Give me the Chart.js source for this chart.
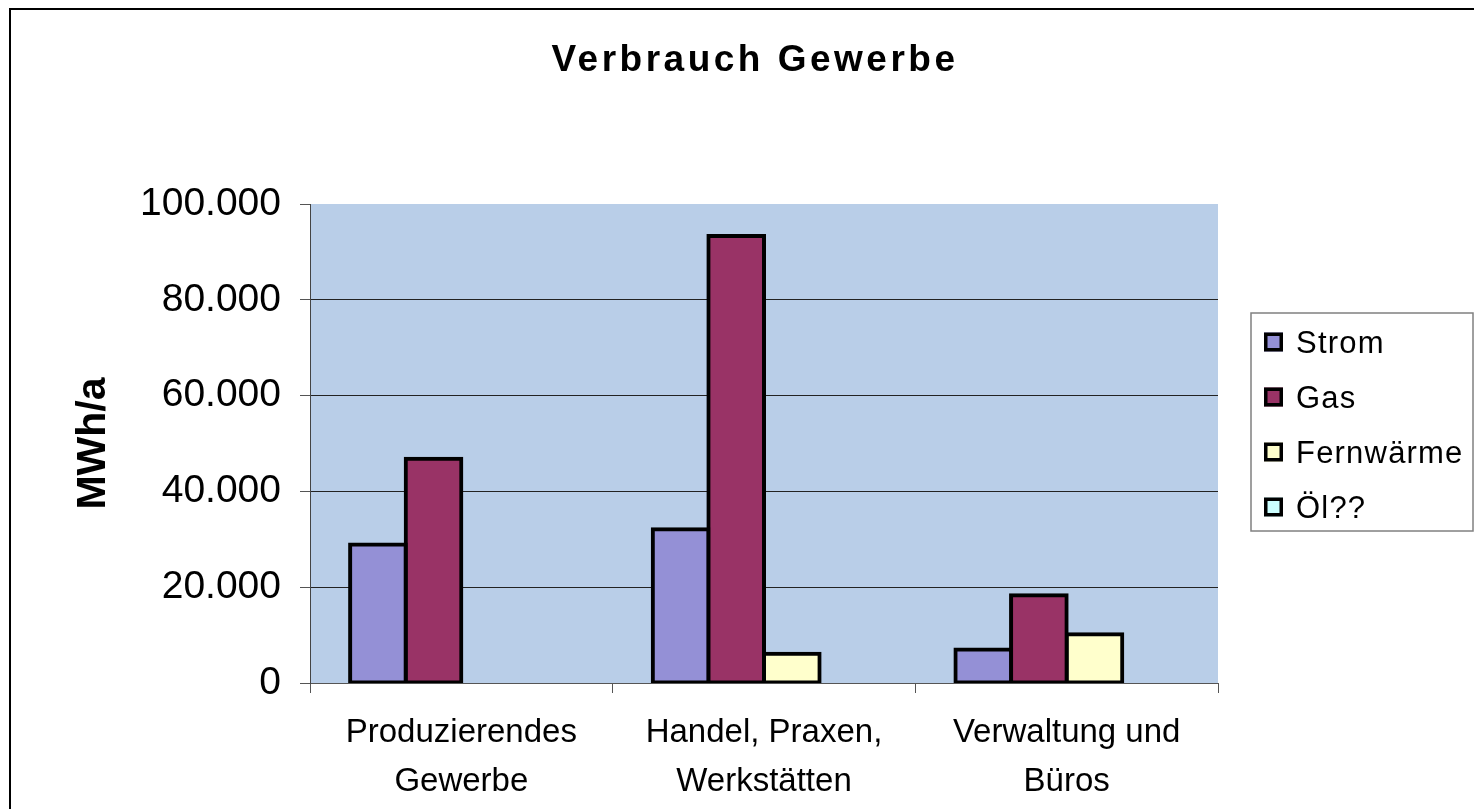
<!DOCTYPE html>
<html>
<head>
<meta charset="utf-8">
<title>Verbrauch Gewerbe</title>
<script src="https://cdn.jsdelivr.net/npm/chart.js@4.4.1/dist/chart.umd.min.js"></script>
<style>
  html, body { margin: 0; padding: 0; background: #fff; }
  #myChart { display: block; }
</style>
</head>
<body>
<canvas id="myChart" width="1474" height="809"></canvas>
<script>
// data (MWh/a)
var chartTitle = 'Verbrauch Gewerbe';
var yTitle = 'MWh/a';
var categories = [['Produzierendes', 'Gewerbe'], ['Handel, Praxen,', 'Werkstätten'], ['Verwaltung und', 'Büros']];
var seriesNames = ['Strom', 'Gas', 'Fernwärme', 'Öl??'];
var strom = [28900, 32100, 7000];
var gas = [46800, 93300, 18300];
var fernwaerme = [0, 6100, 10200];
var oel = [0, 0, 0];
var yTickLabels = ['0', '20.000', '40.000', '60.000', '80.000', '100.000'];

var colors = ['#9490D6', '#993366', '#FFFFCC', '#CCFFFF'];
var FONT = "'Liberation Sans', Arial, sans-serif";

Chart.defaults.color = '#000';
Chart.defaults.font.family = FONT;

// background, plot area fill, frame, title and boxed legend
var excelLook = {
  id: 'excelLook',
  beforeDraw: function(chart) {
    var ctx = chart.ctx, a = chart.chartArea;
    ctx.save();
    ctx.fillStyle = '#fff';
    ctx.fillRect(0, 0, chart.width, chart.height);
    ctx.fillStyle = '#B9CEE8';
    ctx.fillRect(a.left, a.top, a.right - a.left, a.bottom - a.top);
    ctx.restore();
  },
  afterDraw: function(chart) {
    var ctx = chart.ctx;
    ctx.save();
    // outer frame
    ctx.strokeStyle = '#000';
    ctx.lineWidth = 2;
    ctx.strokeRect(10, 9, chart.width, chart.height);

    // title
    ctx.fillStyle = '#000';
    ctx.font = 'bold 37px ' + FONT;
    ctx.letterSpacing = '3.5px';
    ctx.textAlign = 'center';
    ctx.textBaseline = 'alphabetic';
    ctx.fillText(chartTitle, 755, 71);

    // legend box
    ctx.letterSpacing = '0px';
    ctx.strokeStyle = '#808080';
    ctx.lineWidth = 1.5;
    ctx.strokeRect(1251, 313, 222, 218);
    ctx.font = '31px ' + FONT;
    ctx.letterSpacing = '1.2px';
    ctx.textAlign = 'left';
    chart.data.datasets.forEach(function(ds, i) {
      var cy = 342 + i * 55;
      ctx.fillStyle = ds.backgroundColor;
      ctx.fillRect(1264, cy - 9.5, 19, 19);
      ctx.strokeStyle = '#000';
      ctx.lineWidth = 3.5;
      ctx.strokeRect(1265.75, cy - 7.75, 15.5, 15.5);
      ctx.fillStyle = '#000';
      ctx.fillText(ds.label, 1296, cy + 11);
    });
    ctx.restore();
  }
};

var datasets = [strom, gas, fernwaerme, oel].map(function(vals, i) {
  return {
    label: seriesNames[i],
    data: vals,
    backgroundColor: colors[i],
    borderColor: '#000',
    borderWidth: 4,
    inflateAmount: 2,
    borderSkipped: false,
    categoryPercentage: 0.735,
    barPercentage: 1.0
  };
});

var ctx = document.getElementById('myChart').getContext('2d');
var myChart = new Chart(ctx, {
  type: 'bar',
  data: { labels: categories, datasets: datasets },
  options: {
    responsive: false,
    animation: false,
    layout: { padding: { top: 204, right: 256, left: 0, bottom: 0 } },
    plugins: {
      legend: { display: false },
      title: { display: false },
      tooltip: { enabled: false }
    },
    scales: {
      x: {
        offset: true,
        grid: {
          offset: true,
          drawOnChartArea: false,
          drawTicks: true,
          tickLength: 10,
          tickColor: '#555'
        },
        border: { color: '#555', width: 1 },
        ticks: {
          autoSkip: false,
          maxRotation: 0,
          padding: 15,
          color: '#000',
          font: { size: 33, lineHeight: 1.5 }
        },
        afterFit: function(s) { s.height = 126; }
      },
      y: {
        min: 0,
        max: 100000,
        grid: {
          color: function(c) {
            return c.tick && c.tick.value === 100000 ? 'rgba(0,0,0,0)' : '#222';
          },
          tickColor: '#555',
          tickLength: 10,
          lineWidth: 1
        },
        border: { color: '#444', width: 1 },
        ticks: {
          stepSize: 20000,
          padding: 19,
          color: '#000',
          font: { size: 39 },
          callback: function(v, i) { return yTickLabels[i]; }
        },
        title: {
          display: true,
          text: yTitle,
          color: '#000',
          font: { size: 41, weight: 'bold' },
          padding: { top: 69, bottom: 0 }
        },
        afterFit: function(s) { s.width = 310; }
      }
    }
  },
  plugins: [excelLook]
});
</script>
</body>
</html>
